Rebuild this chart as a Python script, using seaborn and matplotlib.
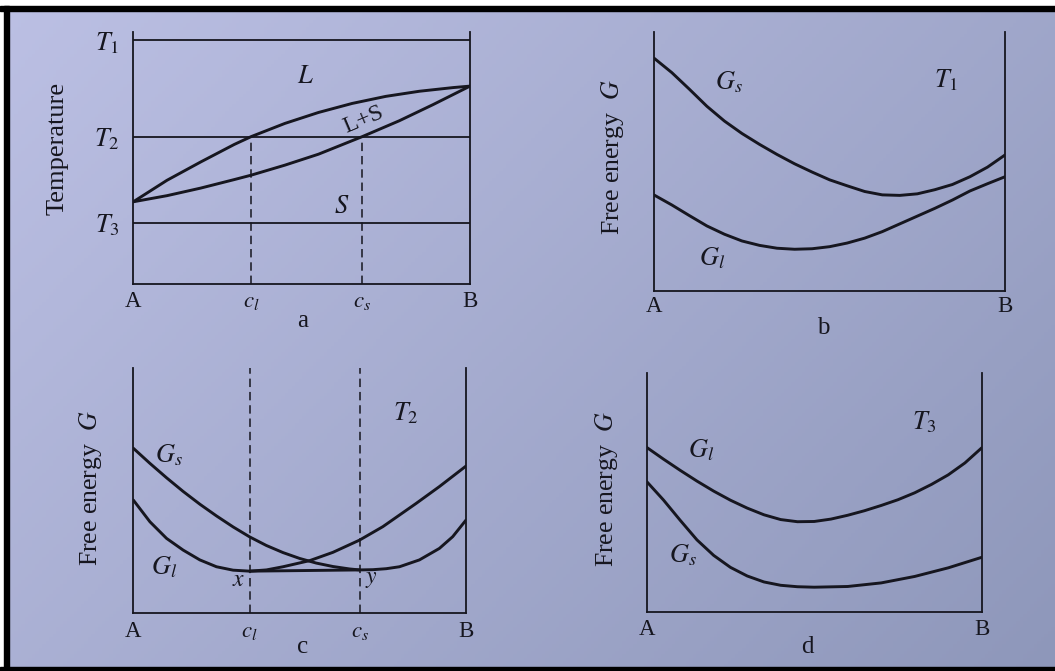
import numpy as np
import matplotlib
matplotlib.use("Agg")
import matplotlib.pyplot as plt
from matplotlib.patches import Rectangle
import seaborn as sns

# ---------------------------------------------------------------
# Data: composition runs from pure A (0) to pure B (1)
# ---------------------------------------------------------------
c_l = 0.35          # liquid composition at T2
c_s = 0.68          # solid composition at T2

# (a) phase diagram, temperature as a fraction of T1
T_levels = [1.0, 0.604, 0.251]
T_names = [r"$T_1$", r"$T_2$", r"$T_3$"]
liq_x = [0, 0.1, 0.2, 0.3, 0.35, 0.45, 0.55, 0.65, 0.75, 0.85, 0.95, 1.0]
liq_T = [0.337, 0.425, 0.500, 0.572, 0.604, 0.658, 0.703, 0.740, 0.769, 0.790, 0.805, 0.811]
sol_x = [0, 0.1, 0.2, 0.3, 0.35, 0.45, 0.55, 0.68, 0.79, 0.89, 1.0]
sol_T = [0.337, 0.362, 0.393, 0.428, 0.446, 0.487, 0.532, 0.604, 0.669, 0.735, 0.811]

# (b) free energy curves at T1
b_gs_x = [0, 0.05, 0.1, 0.15, 0.2, 0.25, 0.3, 0.35, 0.4, 0.45, 0.5, 0.55, 0.6, 0.65, 0.7,
          0.75, 0.8, 0.85, 0.9, 0.95, 1.0]
b_gs_G = [0.897, 0.842, 0.778, 0.712, 0.655, 0.607, 0.565, 0.526, 0.490, 0.458, 0.428, 0.405,
          0.383, 0.370, 0.368, 0.374, 0.390, 0.410, 0.440, 0.477, 0.524]
b_gl_x = [0, 0.05, 0.1, 0.15, 0.2, 0.25, 0.3, 0.35, 0.4, 0.45, 0.5, 0.55, 0.6, 0.65, 0.7,
          0.75, 0.8, 0.85, 0.9, 0.95, 1.0]
b_gl_G = [0.369, 0.331, 0.290, 0.250, 0.218, 0.192, 0.175, 0.164, 0.160, 0.162, 0.170, 0.184,
          0.203, 0.228, 0.258, 0.288, 0.318, 0.350, 0.385, 0.413, 0.440]

# (c) free energy curves at T2 with the common tangent x-y
c_gl_x = [0, 0.05, 0.1, 0.15, 0.2, 0.25, 0.3, 0.35, 0.4, 0.45, 0.53, 0.6, 0.68, 0.75, 0.85, 0.92, 1.0]
c_gl_G = [0.461, 0.372, 0.304, 0.256, 0.216, 0.188, 0.174, 0.170, 0.175, 0.188, 0.213, 0.247,
          0.297, 0.352, 0.447, 0.516, 0.600]
c_gs_x = [0, 0.05, 0.1, 0.15, 0.2, 0.25, 0.3, 0.35, 0.4, 0.45, 0.5, 0.55, 0.6, 0.65, 0.68,
          0.72, 0.76, 0.8, 0.86, 0.92, 0.96, 1.0]
c_gs_G = [0.673, 0.611, 0.552, 0.496, 0.444, 0.396, 0.351, 0.310, 0.275, 0.246, 0.222, 0.203,
          0.189, 0.179, 0.175, 0.176, 0.180, 0.188, 0.216, 0.263, 0.311, 0.379]
tangent_x = [c_l, c_s]
tangent_G = [0.170, 0.175]

# (d) free energy curves at T3
d_gl_x = [0, 0.05, 0.1, 0.15, 0.2, 0.25, 0.3, 0.35, 0.4, 0.45, 0.5, 0.55, 0.6, 0.65, 0.7,
          0.75, 0.8, 0.85, 0.9, 0.95, 1.0]
d_gl_G = [0.690, 0.641, 0.594, 0.549, 0.507, 0.469, 0.436, 0.408, 0.388, 0.379, 0.380, 0.390,
          0.406, 0.425, 0.447, 0.471, 0.500, 0.535, 0.575, 0.625, 0.688]
d_gs_x = [0, 0.05, 0.1, 0.15, 0.2, 0.25, 0.3, 0.35, 0.4, 0.45, 0.5, 0.6, 0.7, 0.8, 0.9, 1.0]
d_gs_G = [0.547, 0.470, 0.385, 0.303, 0.238, 0.188, 0.152, 0.127, 0.113, 0.107, 0.105, 0.108,
          0.123, 0.150, 0.186, 0.230]

# ---------------------------------------------------------------
# Style
# ---------------------------------------------------------------
sns.set_theme(style="white")
plt.rcParams["font.family"] = ["Liberation Serif", "DejaVu Serif"]
plt.rcParams["mathtext.fontset"] = "stix"

INK = "#16161f"
CURVE_LW = 2.1
AXIS_LW = 1.3
DASH = (0, (5.5, 3.2))
MATH_FS = 19

W, H = 1055, 671
fig = plt.figure(figsize=(W / 100, H / 100), dpi=100)


def px_axes(left, top, right, bottom):
    return fig.add_axes([left / W, 1 - bottom / H, (right - left) / W, (bottom - top) / H])


def ftext(x, y, s, **kw):
    kw.setdefault("ha", "center")
    kw.setdefault("va", "center")
    kw.setdefault("color", INK)
    fig.text(x / W, 1 - y / H, s, **kw)


# paper background with uneven lighting
bg = fig.add_axes([0, 0, 1, 1], zorder=-10)
rows, cols = np.mgrid[0:1:200j, 0:1:300j]
t = np.clip(0.62 * cols + 0.38 * rows, 0, 1)[..., None]
light = np.array([188, 192, 228]) / 255
dark = np.array([142, 151, 186]) / 255
bg.imshow(light * (1 - t) + dark * t, extent=[0, 1, 0, 1], aspect="auto")
bg.set_axis_off()

# frame around the page
for (x0, y0, w, h, col) in [
    (0, 0, W, 6, "white"), (0, 0, 4, H, "white"),
    (0, 6, W, 5, "black"), (4, 6, 5, H - 6, "black"), (0, 667, W, 4, "black"),
]:
    fig.patches.append(Rectangle((x0 / W, 1 - (y0 + h) / H), w / W, h / H,
                                 transform=fig.transFigure, color=col, zorder=-5))


def style_axes(ax, ymax, xpad=6):
    ax.set_facecolor("none")
    ax.set_xlim(0, 1)
    ax.set_ylim(0, ymax)
    for side, sp in ax.spines.items():
        sp.set_color(INK)
        sp.set_linewidth(AXIS_LW)
        sp.set_visible(side != "top")
    ax.tick_params(axis="x", length=0, pad=xpad, labelsize=16.5, labelcolor=INK)
    ax.tick_params(axis="y", length=0, labelsize=MATH_FS, labelcolor=INK)
    ax.set_xlabel("")
    ax.set_ylabel("")


def curve(ax, xs, ys):
    sns.lineplot(x=xs, y=ys, ax=ax, color=INK, lw=CURVE_LW, estimator=None, sort=True,
                 solid_joinstyle="round", solid_capstyle="round")


# ---------------- (a) phase diagram ----------------
ax_a = px_axes(133.3, 31.7, 470, 284)
curve(ax_a, liq_x, liq_T)
curve(ax_a, sol_x, sol_T)
for T in T_levels:
    ax_a.axhline(T, color=INK, lw=AXIS_LW)
ax_a.vlines([c_l, c_s], 0, T_levels[1], color=INK, lw=1.1, linestyles=[DASH])
style_axes(ax_a, 1.034, xpad=5)
ax_a.set_xticks([0, c_l, c_s, 1], labels=["A", r"$c_l$", r"$c_s$", "B"])
ax_a.set_yticks(T_levels, labels=T_names)
ax_a.tick_params(axis="y", pad=10)
ftext(305, 77, r"$L$", fontsize=MATH_FS)
ftext(363, 120, "L+S", fontsize=17.5, rotation=23, rotation_mode="anchor")
ftext(342, 207, r"$S$", fontsize=MATH_FS)
ftext(58, 148, "Temperature", fontsize=19, rotation=90)
ftext(303, 327, "a", fontsize=18, va="baseline")

# ---------------- (b) T1 ----------------
ax_b = px_axes(654.3, 31.7, 1005, 290.7)
curve(ax_b, b_gs_x, b_gs_G)
curve(ax_b, b_gl_x, b_gl_G)
style_axes(ax_b, 1.0, xpad=4)
ax_b.set_xticks([0, 1], labels=["A", "B"])
ax_b.set_yticks([])
ftext(729, 82, r"$G_s$", fontsize=MATH_FS)
ftext(712, 258, r"$G_l$", fontsize=MATH_FS)
ftext(946, 80, r"$T_1$", fontsize=MATH_FS)
ftext(613, 157, r"Free energy  $G$", fontsize=18.5, rotation=90)
ftext(823, 334, "b", fontsize=18, va="baseline")

# ---------------- (c) T2 ----------------
ax_c = px_axes(133.3, 368.3, 466, 612.7)
curve(ax_c, c_gs_x, c_gs_G)
curve(ax_c, c_gl_x, c_gl_G)
curve(ax_c, tangent_x, tangent_G)
ax_c.vlines([c_l, c_s], 0, 1, color=INK, lw=1.1, linestyles=[DASH])
style_axes(ax_c, 1.0, xpad=6)
ax_c.set_xticks([0, c_l, c_s, 1], labels=["A", r"$c_l$", r"$c_s$", "B"])
ax_c.set_yticks([])
ftext(169, 455, r"$G_s$", fontsize=MATH_FS)
ftext(164, 567, r"$G_l$", fontsize=MATH_FS)
ftext(406, 413, r"$T_2$", fontsize=MATH_FS)
ftext(239, 581, r"$x$", fontsize=17)
ftext(371, 579, r"$y$", fontsize=17)
ftext(91, 488, r"Free energy  $G$", fontsize=18.5, rotation=90)
ftext(303, 653, "c", fontsize=18, va="baseline")

# ---------------- (d) T3 ----------------
ax_d = px_axes(646.7, 373.3, 981.7, 612.3)
curve(ax_d, d_gl_x, d_gl_G)
curve(ax_d, d_gs_x, d_gs_G)
style_axes(ax_d, 1.0, xpad=5)
ax_d.set_xticks([0, 1], labels=["A", "B"])
ax_d.set_yticks([])
ftext(701, 450, r"$G_l$", fontsize=MATH_FS)
ftext(683, 555, r"$G_s$", fontsize=MATH_FS)
ftext(924, 422, r"$T_3$", fontsize=MATH_FS)
ftext(606, 489, r"Free energy  $G$", fontsize=18.5, rotation=90)
ftext(807, 653, "d", fontsize=18, va="baseline")

fig.savefig("out.png", dpi=100)
